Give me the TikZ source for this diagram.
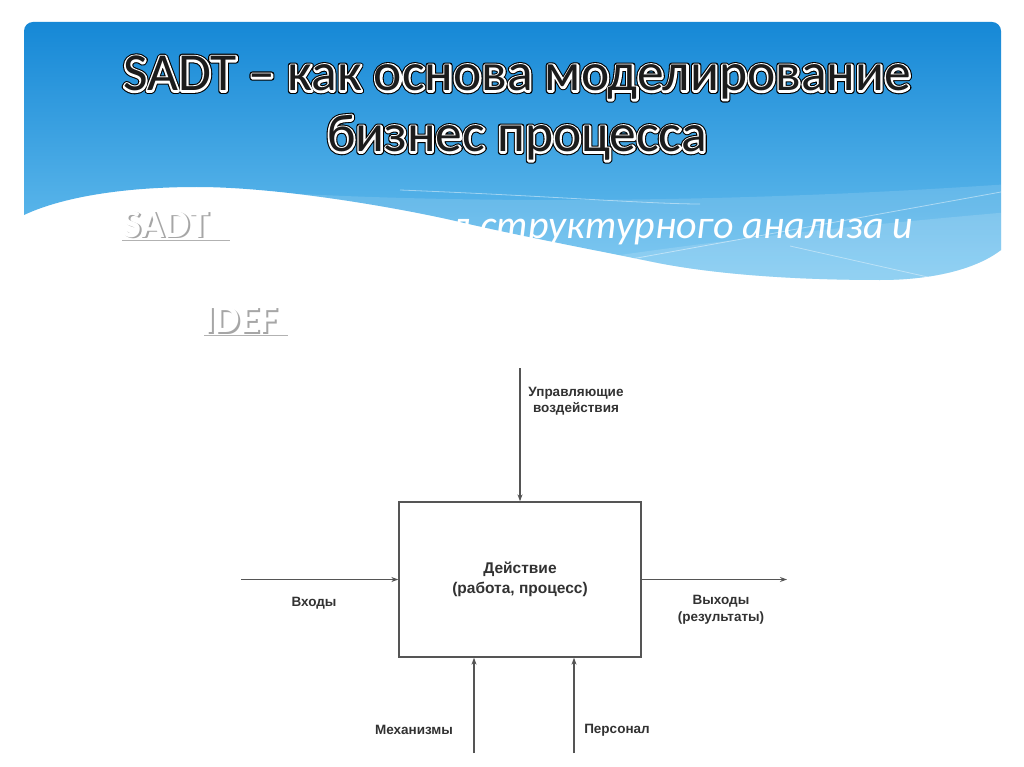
\documentclass[tikz,border=0pt]{standalone}
\usepackage{fontspec}
\setmainfont{Carlito}
\newfontfamily\diagfont{Liberation Sans}
\newfontfamily\ringouter[FakeBold=11]{Carlito}
\newfontfamily\ringinner[FakeBold=7]{Carlito}
\usetikzlibrary{arrows.meta}
\definecolor{bluetop}{RGB}{22,136,214}
\definecolor{bluebot}{RGB}{110,195,240}
\definecolor{linegray}{RGB}{85,85,85}
\definecolor{txtgray}{RGB}{50,50,50}
\definecolor{titlefill}{RGB}{28,28,28}
\newcommand\roundjoins{\special{pdf:code 1 j 0 J}}
\tikzset{
  conn/.style={draw=linegray, line width=1.3pt, -{Stealth[length=7pt,width=5pt]}},
  procbox/.style={draw=linegray, line width=1.3pt, minimum width=242pt, minimum height=155pt, inner sep=0pt,
    align=center, font=\diagfont\bfseries\fontsize{15.5}{20}\selectfont, text=txtgray},
  lbl/.style={align=center, font=\diagfont\bfseries\fontsize{13.5}{16.5}\selectfont, text=txtgray, inner sep=0pt},
  titletxt/.style={anchor=base, inner sep=0pt, line join=round, font=\fontsize{53.5}{62}\selectfont},
  subtxt/.style={anchor=base west, inner sep=0pt, font=\bfseries\fontsize{40}{48}\selectfont},
}
\def\wavepath{(24,215) [rounded corners=9pt] -- (24,22) -- (1001,22) [sharp corners] -- (1001,250)
  .. controls (975,270) and (930,280) .. (880,280)
  .. controls (800,280) and (720,275) .. (658,263)
  .. controls (600,251) and (520,236) .. (460,222)
  .. controls (400,208) and (280,187) .. (197,187)
  .. controls (120,187) and (60,198) .. (24,215) -- cycle}
\begin{document}
\begin{tikzpicture}[x=1pt,y=-1pt]
\useasboundingbox[fill=white] (0,0) rectangle (1024,767);
% blue header with wave
\shade[top color=bluetop, bottom color=bluebot] \wavepath;
\begin{scope}
  \clip \wavepath;
  \fill[white, opacity=0.13] (300,194) .. controls (500,204) and (750,202) .. (1010,184) -- (1010,300) -- (300,300) -- cycle;
  \fill[white, opacity=0.14] (560,264) .. controls (700,242) and (850,226) .. (1010,212) -- (1010,300) -- (560,300) -- cycle;
  \draw[white, opacity=0.45, line width=0.8pt] (400,190) .. controls (550,196) and (650,204) .. (700,204);
  \draw[white, opacity=0.45, line width=0.8pt] (615,262) -- (1001,192);
  \draw[white, opacity=0.4, line width=0.8pt] (790,246) -- (950,282);
\end{scope}
% title: dark outer ring, white ring, dark letters
\node[titletxt, text=black, font=\ringouter\fontsize{53.5}{62}\selectfont] (t1o) at (517,91) {\roundjoins SADT – как основа моделирование};
\node[titletxt, text=white, font=\ringinner\fontsize{53.5}{62}\selectfont] (t1w) at (517,91) {\roundjoins SADT – как основа моделирование};
\node[titletxt, text=titlefill] (t1) at (517,91) {SADT – как основа моделирование};
\node[titletxt, text=black, font=\ringouter\fontsize{53.5}{62}\selectfont] (t2o) at (517,152) {\roundjoins бизнес процесса};
\node[titletxt, text=white, font=\ringinner\fontsize{53.5}{62}\selectfont] (t2w) at (517,152) {\roundjoins бизнес процесса};
\node[titletxt, text=titlefill] (t2) at (517,152) {бизнес процесса};
% subtitle texts
\node[subtxt, text=black!35] (sadtsh) at (124,239) {SADT};
\node[subtxt, text=white] (sadt) at (122,237) {SADT};
\draw[black!30, line width=1pt] (sadt.base west) ++(0,3) coordinate (su1) -- ++(108,0) coordinate (su2);
\node[anchor=base west, inner sep=0pt, font=\itshape\fontsize{40}{48}\selectfont, text=white] (meth) at (450,238) {д структурного анализа и};
\node[subtxt, text=black!35] (idefsh) at (206,334) {IDEF};
\node[subtxt, text=white] (idef) at (204,332) {IDEF};
\draw[black!30, line width=1pt] (idef.base west) ++(0,3) coordinate (iu1) -- ++(84,0) coordinate (iu2);
% IDEF0 diagram
\node[procbox] (box) at (520,579.5) {Действие\\(работа, процесс)};
\coordinate (ctrl) at (520,368);
\coordinate (inp) at (241,579.5);
\coordinate (outp) at (787,579.5);
\coordinate (mech) at (474,753);
\coordinate (pers) at (574,753);
\draw[conn] (ctrl) -- (box.north);
\draw[conn] (inp) -- (box.west);
\draw[conn] (box.east) -- (outp);
\draw[conn] (mech) -- (mech |- box.south);
\draw[conn] (pers) -- (pers |- box.south);
\node[lbl] (lctrl) at (576,401) {Управляющие\\воздействия};
\node[lbl] (linp) at (314,603) {Входы};
\node[lbl] (lout) at (721,610) {Выходы\\(результаты)};
\node[lbl] (lmech) at (414,730) {Механизмы};
\node[lbl] (lpers) at (617,730) {Персонал};
\end{tikzpicture}
\end{document}
